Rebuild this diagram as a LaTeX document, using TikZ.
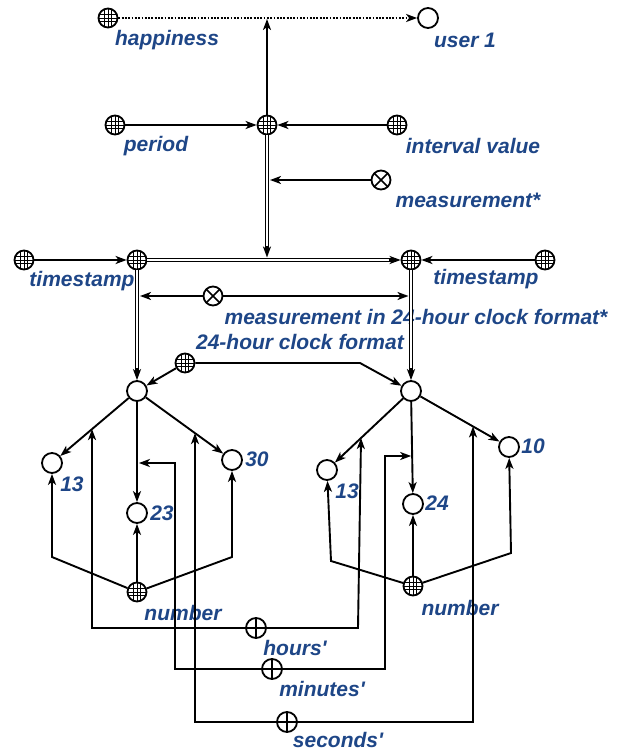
\documentclass[tikz,border=0pt]{standalone}
\usepackage{fontspec}
\setmainfont{Liberation Sans}
\usetikzlibrary{arrows.meta,calc}
\definecolor{lblue}{RGB}{30,70,135}
\begin{document}
\begin{tikzpicture}[x=1pt,y=-1pt,
  base/.style={circle, draw, line width=1.8pt, minimum size=19pt, inner sep=0pt, fill=white},
  hatch/.style={base, path picture={
      \foreach \d in {-3.7,0,3.7}{
        \draw[line width=0.9pt] ($(path picture bounding box.center)+(\d pt,-12pt)$) -- ++(0pt,24pt);
        \draw[line width=0.9pt] ($(path picture bounding box.center)+(-12pt,\d pt)$) -- ++(24pt,0pt);
      }}},
  oplusnode/.style={base, minimum size=20pt, path picture={
      \draw[line width=1.6pt] (path picture bounding box.north) -- (path picture bounding box.south)
                              (path picture bounding box.west) -- (path picture bounding box.east);}},
  otimesnode/.style={base, path picture={
      \draw[line width=1.6pt] (path picture bounding box.north east) -- (path picture bounding box.south west)
                              (path picture bounding box.north west) -- (path picture bounding box.south east);}},
  plain/.style={base, minimum size=20pt},
  lbl/.style={text=lblue, font=\fontsize{21}{23}\selectfont\bfseries\itshape, inner sep=0pt},
  arr/.style={line width=1.9pt, -{Stealth[length=11pt,width=8pt,inset=3pt]}},
  dotarr/.style={line width=1.8pt, dash pattern=on 1.8pt off 1.5pt, -{Stealth[length=11pt,width=8pt,inset=3pt]}},
  dbl/.style={double, line width=1pt, double distance=2.4pt, shorten >=9pt},
]
\useasboundingbox (0,0) rectangle (616,752);
\fill[white] (0,0) rectangle (616,752);

% ---------- top part ----------
\node[hatch] (happ) at (108,18) {};
\node[plain] (user) at (428,18) {};
\node[hatch] (cen) at (267,125) {};
\node[hatch] (per) at (115,125) {};
\node[hatch] (intv) at (397,125) {};
\node[otimesnode] (meas) at (381,180) {};

\node[lbl] (lhapp) at (167,40) {happiness};
\node[lbl] (luser) at (465,40) {user 1};
\node[lbl] (lper) at (156,146) {period};
\node[lbl] (lintv) at (473,146) {interval value};
\node[lbl] (lmeas) at (468,200) {measurement*};

\coordinate (topj) at (267,19);
\coordinate (mj) at (270,180);
\coordinate (cj) at (267,257.5);

\draw[dotarr] (happ) -- (user);
\draw[arr] (cen) -- (topj);
\draw[arr] (per) -- (cen);
\draw[arr] (intv) -- (cen);
\draw[arr] (meas) -- (mj);
\draw[dbl] (cen) -- (cj);
\draw[arr] ($(cj)+(0,-12)$) -- (cj);

% ---------- middle part ----------
\node[hatch] (ts1) at (24,260) {};
\node[hatch] (tA) at (137,260) {};
\node[hatch] (tB) at (411,260) {};
\node[hatch] (ts2) at (545,260) {};
\node[otimesnode] (mx) at (213,296) {};
\node[hatch] (fmt) at (185,363) {};
\node[plain] (cl) at (137,391) {};
\node[plain] (cr) at (411,391) {};

\node[lbl] (lts1) at (82,281) {timestamp};
\node[lbl] (lts2) at (486,279) {timestamp};
\node[lbl] (lmx) at (416,317) {measurement in 24-hour clock format*};
\node[lbl] (lfmt) at (300,342) {24-hour clock format};

\coordinate (xl) at (140,296);
\coordinate (xr) at (408.5,296);
\coordinate (fb) at (360,363);

\draw[arr] (ts1) -- (tA);
\draw[arr] (ts2) -- (tB);
\draw[dbl] (tA) -- (tB);
\draw[arr] ($(tB.west)+(-12,0)$) -- (tB.west);
\draw[arr] (mx) -- (xl);
\draw[arr] (mx) -- (xr);
\draw[dbl] (tA) -- (cl);
\draw[arr] ($(cl.north)+(0,-12)$) -- (cl.north);
\draw[dbl] (tB) -- (cr);
\draw[arr] ($(cr.north)+(0,-12)$) -- (cr.north);
\draw[arr] (fmt) -- (cl);
\draw[arr] (fmt) -- (fb) -- (cr);

% ---------- left tree ----------
\node[plain] (a13) at (52,463) {};
\node[plain] (a23) at (137,513) {};
\node[plain] (a30) at (232,460) {};
\node[hatch] (nl) at (137,592) {};
\node[lbl] (la13) at (72,484) {13};
\node[lbl] (la23) at (162,513) {23};
\node[lbl] (la30) at (257,459) {30};
\node[lbl] (lnl) at (183,613) {number};

\draw[arr] (cl) -- (a13);
\draw[arr] (cl) -- (a23);
\draw[arr] (cl) -- (a30);
\coordinate (nl1) at (52,557);
\coordinate (nl2) at (232,557);
\draw[arr] (nl) -- (nl1) -- (a13);
\draw[arr] (nl) -- (a23);
\draw[arr] (nl) -- (nl2) -- (a30);

% ---------- right tree ----------
\node[plain] (b13) at (327,470) {};
\node[plain] (b24) at (413,504) {};
\node[plain] (b10) at (509,447) {};
\node[hatch] (nr) at (413,586) {};
\node[lbl] (lb13) at (347,491) {13};
\node[lbl] (lb24) at (437,503) {24};
\node[lbl] (lb10) at (533,446) {10};
\node[lbl] (lnr) at (460,608) {number};

\draw[arr] (cr) -- (b13);
\draw[arr] (cr) -- (b24);
\draw[arr] (cr) -- (b10);
\coordinate (nr1) at (331,561);
\coordinate (nr2) at (511,553);
\draw[arr] (nr) -- (nr1) -- (b13);
\draw[arr] (nr) -- (b24);
\draw[arr] (nr) -- (nr2) -- (b10);

% ---------- loops ----------
\node[oplusnode] (hrs) at (256,628) {};
\node[oplusnode] (mins) at (272,669) {};
\node[oplusnode] (secs) at (287,722) {};
\node[lbl] (lhrs) at (295,648) {hours\textquotesingle};
\node[lbl] (lmins) at (322,689) {minutes\textquotesingle};
\node[lbl] (lsecs) at (338,740) {seconds\textquotesingle};

\coordinate (h1) at (92,628);
\coordinate (h1t) at ($(cl)!0.529!(a13)$);
\coordinate (h2) at (358,628);
\coordinate (h2t) at ($(cr)!0.595!(b13)$);
\draw[arr] (hrs) -- (h1) -- (h1t);
\draw[arr] (hrs) -- (h2) -- (h2t);

\coordinate (m1) at (175,669);
\coordinate (m1b) at (175,463);
\coordinate (m1t) at (138.9,463);
\coordinate (m2) at (385,669);
\coordinate (m2b) at (385,456);
\coordinate (m2t) at (411.2,456);
\draw[arr] (mins) -- (m1) -- (m1b) -- (m1t);
\draw[arr] (mins) -- (m2) -- (m2b) -- (m2t);

\coordinate (s1) at (195,722);
\coordinate (s1t) at ($(cl)!0.6105!(a30)$);
\coordinate (s2) at (473,722);
\coordinate (s2t) at ($(cr)!0.6327!(b10)$);
\draw[arr] (secs) -- (s1) -- (s1t);
\draw[arr] (secs) -- (s2) -- (s2t);
\end{tikzpicture}
\end{document}
